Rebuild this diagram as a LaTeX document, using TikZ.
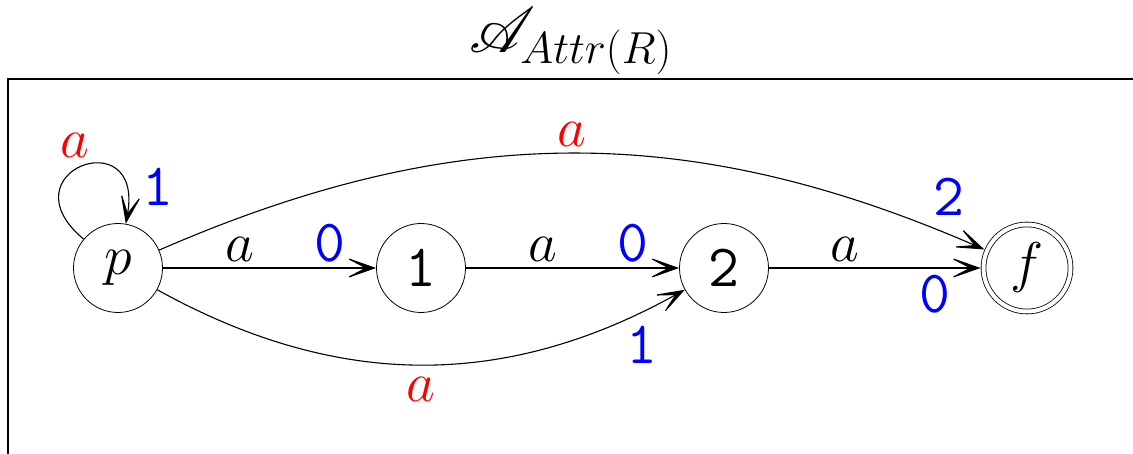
\RequirePackage{fix-cm}
\documentclass[tikz,border=0pt]{standalone}
\usepackage{mathrsfs}
\DeclareFontFamily{U}{rsfs}{\skewchar\font127 }
\DeclareFontShape{U}{rsfs}{m}{n}{<-6> rsfs5 <6-8> rsfs7 <8-> rsfs10}{}
\usetikzlibrary{arrows.meta}
\newcommand\ttdig{\fontencoding{OT1}\fontfamily{cmtt}\fontsize{60}{70}\selectfont}
\tikzset{
  big/.style={font=\fontsize{56}{67}\selectfont},
  state/.style={circle, draw, line width=0.8pt, minimum size=89pt, inner sep=0pt, big},
  accstate/.style={circle, draw, line width=0.8pt, double, double distance=4pt, minimum size=87pt, inner sep=0pt, outer sep=3pt, big},
  lab/.style={inner sep=0pt, big},
  dig/.style={inner sep=0pt, text=blue, font=\ttdig},
  redlab/.style={inner sep=0pt, text=red, big},
  trans/.style={line width=1.1pt, -{Stealth[length=34pt,width=24pt,inset=23pt]}},
}
\begin{document}
\begin{tikzpicture}[x=1pt,y=1pt]
\useasboundingbox (0,0) rectangle (1133,454);
\draw[line width=2pt] (8,-20) -- (8,375) -- (1150,375);
\node[font=\fontsize{64}{77}\selectfont, inner sep=0pt] (title) at (570.5,413) {$\mathscr{A}_{Attr(R)}$};
\node[state] (p) at (118,186) {$p$};
\node[state] (n1) at (421,186) {\ttdig 1};
\node[state] (n2) at (724,186) {\ttdig 2};
\node[accstate] (f) at (1027,186) {$f$};
\path (p) edge[trans] node[lab,pos=.36,above=6pt] {$a$} node[dig,pos=.785,above=6pt] {0} (n1);
\path (n1) edge[trans] node[lab,pos=.36,above=6pt] {$a$} node[dig,pos=.785,above=6pt] {0} (n2);
\path (n2) edge[trans] node[lab,pos=.36,above=6pt] {$a$} node[dig,pos=.785,below=7pt] {0} (f);
\path (p) edge[trans,bend left=23.5] node[redlab,pos=.5,above=6pt] {$a$} node[dig,pos=.96,above=19pt] {2} (f);
\path (p) edge[trans,bend right=29] node[redlab,pos=.5,below=12pt] {$a$} node[dig,pos=.92,below=15pt] {1} (n2);
\path (p) edge[trans,out=140,in=80,looseness=6] node[redlab,pos=.45,above=12pt] {$a$} node[dig,pos=.85,right=17pt] {1} (p);
\end{tikzpicture}
\end{document}
